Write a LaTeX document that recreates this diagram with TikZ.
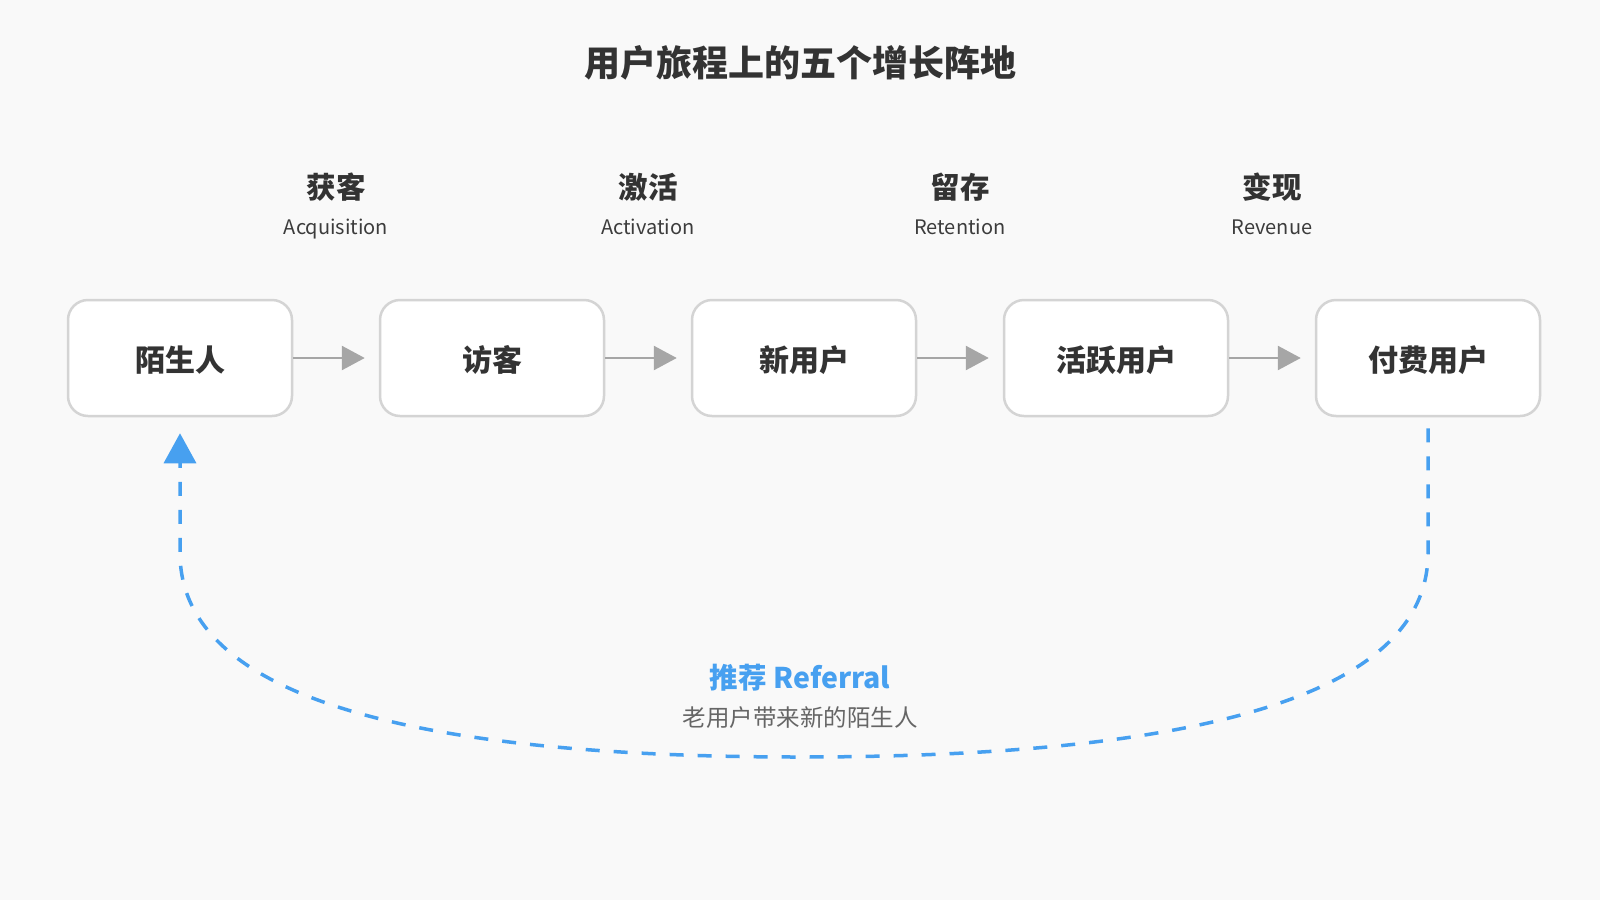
\documentclass[tikz,border=0pt]{standalone}
\usepackage{fontspec}
\setmainfont{Noto Sans CJK SC}
\usetikzlibrary{arrows.meta}
\definecolor{bgc}{HTML}{F9F9F9}
\definecolor{boxline}{HTML}{D4D4D4}
\definecolor{flowgray}{HTML}{A6A6A6}
\definecolor{refblue}{HTML}{47A0F0}
\definecolor{darktext}{HTML}{333333}
\definecolor{entext}{HTML}{3C3C3C}
\definecolor{subgray}{HTML}{666666}
\tikzset{
  stagebox/.style={draw=boxline, line width=2.5pt, fill=white, rounded corners=20pt,
    minimum width=224pt, minimum height=116pt, inner sep=0pt},
  boxtext/.style={font=\fontsize{30}{34}\selectfont\bfseries, text=darktext, inner sep=0pt},
  flow/.style={draw=flowgray, line width=2.6pt, -{Triangle[length=23pt,width=24pt]}, shorten >=14pt},
  referral/.style={draw=refblue, line width=3.5pt, dash pattern=on 14pt off 14pt,
    -{Triangle[length=30pt,width=32pt]}},
  stagecn/.style={font=\fontsize{29.5}{33}\selectfont\bfseries, text=darktext, inner sep=0pt},
  stageen/.style={font=\fontsize{20}{24}\selectfont, text=entext, inner sep=0pt, anchor=base},
}
\begin{document}
\begin{tikzpicture}[x=1pt,y=-1pt]
\fill[bgc] (0,0) rectangle (1600,900);
\useasboundingbox (0,0) rectangle (1600,900);

\node[font=\fontsize{36}{40}\selectfont\bfseries, text=darktext, inner sep=0pt] (title) at (800,63) {用户旅程上的五个增长阵地};

\node[stagebox] (b1) at (180,358) {};
\node[stagebox] (b2) at (492,358) {};
\node[stagebox] (b3) at (804,358) {};
\node[stagebox] (b4) at (1116,358) {};
\node[stagebox] (b5) at (1428,358) {};
\node[boxtext] (t1) at (180,360) {陌生人};
\node[boxtext] (t2) at (492,360) {访客};
\node[boxtext] (t3) at (804,360) {新用户};
\node[boxtext] (t4) at (1116,360) {活跃用户};
\node[boxtext] (t5) at (1428,360) {付费用户};

\node[stagecn] (l1) at (336,187) {获客};
\node[stageen] (e1) at (336,234) {Acquisition};
\node[stagecn] (l2) at (648,187) {激活};
\node[stageen] (e2) at (648,234) {Activation};
\node[stagecn] (l3) at (960,187) {留存};
\node[stageen] (e3) at (960,234) {Retention};
\node[stagecn] (l4) at (1272,187) {变现};
\node[stageen] (e4) at (1272,234) {Revenue};

\draw[flow] (b1) -- (b2);
\draw[flow] (b2) -- (b3);
\draw[flow] (b3) -- (b4);
\draw[flow] (b4) -- (b5);

\coordinate (r1) at (1428,553);
\coordinate (r2) at (800,757);
\coordinate (r3) at (180,553);
\draw[referral, shorten <=11pt, shorten >=16pt] (b5.south) -- (r1)
  .. controls (1428,689) and (1218.7,757) .. (r2)
  .. controls (386.7,757) and (180,689) .. (r3) -- (b1.south);

\node[font=\fontsize{28.5}{32}\selectfont\bfseries, text=refblue, inner sep=0pt] (reftitle) at (800,678) {推荐 Referral};
\node[font=\fontsize{23.5}{26}\selectfont, text=subgray, inner sep=0pt] (refsub) at (800,718) {老用户带来新的陌生人};
\end{tikzpicture}
\end{document}
